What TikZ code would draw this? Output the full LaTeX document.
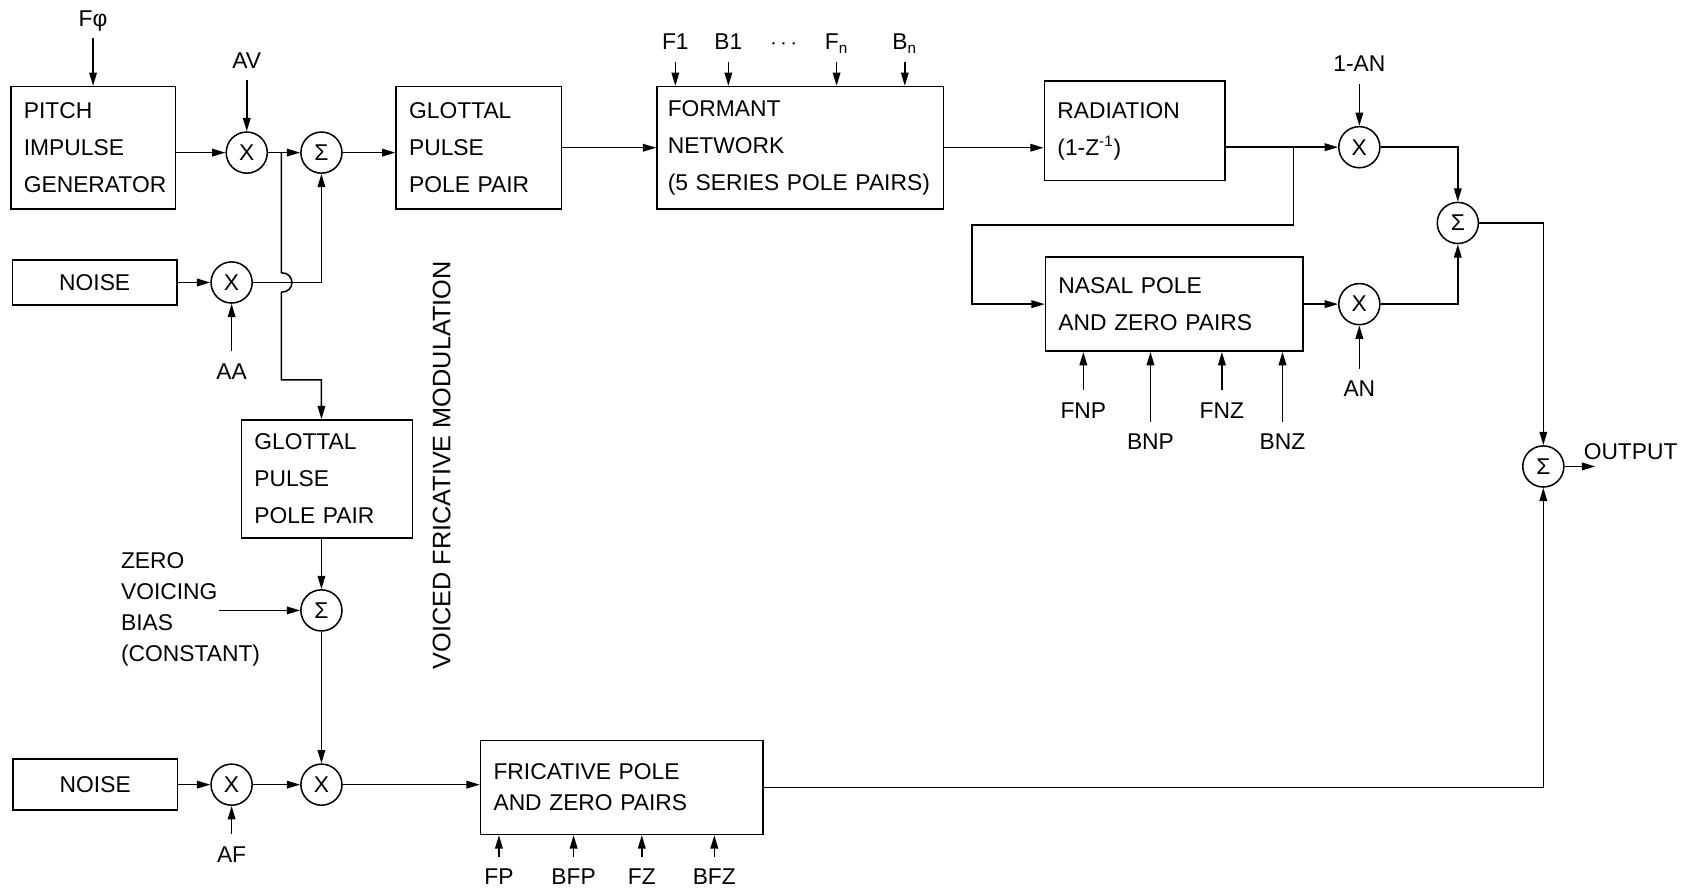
\documentclass[tikz,border=0pt]{standalone}
\usepackage{fontspec}
\setmainfont{Liberation Sans}
\usepackage{tikz}
\usetikzlibrary{arrows.meta,positioning,calc}
\tikzset{
    blockbox/.style={
        rectangle,                % bloque del sintetizador
        draw,                     % borde negro simple
        line width=0.8pt,         % trazo fino, como en el dibujo original
        align=left,               % texto alineado a la izquierda dentro del bloque
        inner xsep=0.24cm,        % margen izquierdo del texto
        inner ysep=0pt,
        font=\fontsize{12}{19.5}\selectfont % interlineado amplio
    },
    noisebox/.style={
        rectangle,
        draw,
        line width=0.8pt,
        align=center,             % aquí el texto va centrado
        inner sep=0pt,
        minimum width=3.04cm      % mismo ancho para las dos fuentes de ruido
    },
    mixer/.style={
        circle,                   % multiplicadores y sumadores
        draw,
        line width=0.8pt,
        minimum size=0.76cm,
        inner sep=0pt
    },
    param/.style={
        inner xsep=2pt,
        inner ysep=6pt,           % deja el hueco entre rótulo y flecha
        text height=8.6pt,        % todos los rótulos con la misma caja
        text depth=0pt
    },
    sig/.style={
        line width=0.8pt,
        -{Triangle[length=7pt,width=4pt]} % punta rellena y estrecha
    }
}

\begin{document}
\begin{tikzpicture}[x=0.02cm, y=-0.02cm, font=\fontsize{12}{14}\selectfont]
    \useasboundingbox (0,0) rectangle (1568,825);

    \node[blockbox, text width=2.56cm, minimum height=2.26cm] (pitch) at (86,136.5) {PITCH\\IMPULSE\\GENERATOR};
    \node[blockbox, text width=2.58cm, minimum height=2.26cm] (glotA) at (442.5,136.5) {GLOTTAL\\PULSE\\POLE PAIR};
    \node[blockbox, text width=4.9cm, inner xsep=0.2cm, minimum height=2.26cm] (formant) at (739.5,136.5) {FORMANT\\NETWORK\\\mbox{(5 SERIES POLE PAIRS)}};
    \node[blockbox, text width=2.86cm, minimum height=1.84cm] (radiation) at (1048.5,121) {RADIATION\\(1-Z\textsuperscript{-1})};
    \node[blockbox, text width=4.28cm, minimum height=1.74cm] (nasal) at (1085,281) {NASAL POLE\\AND ZERO PAIRS};
    \node[noisebox, minimum height=0.84cm] (noiseA) at (87.5,261) {NOISE};
    \node[blockbox, text width=2.68cm, minimum height=2.18cm] (glotB) at (302,442.5) {GLOTTAL\\PULSE\\POLE PAIR};
    \node[noisebox, minimum height=0.94cm] (noiseB) at (88,725) {NOISE};
    \node[blockbox, text width=4.74cm, minimum height=1.74cm, font=\fontsize{12}{16.5}\selectfont] (fricative) at (574.5,727.5) {FRICATIVE POLE\\AND ZERO PAIRS};

    \node[mixer] (mulV) at (228,141) {X};
    \node[mixer] (sumV) at (297,141) {Σ};
    \node[mixer] (mulA) at (214,261) {X};
    \node[mixer] (sumB) at (297,564) {Σ};
    \node[mixer] (mulAF) at (214,725) {X};
    \node[mixer] (mulF) at (297,725) {X};
    \node[mixer] (mulOral) at (1256,136) {X};
    \node[mixer] (mulNasal) at (1256,281) {X};
    \node[mixer] (sumN) at (1347,206) {Σ};
    \node[mixer] (sumOut) at (1426,431) {Σ};

    \node[param, above=0.88cm of pitch] (f0) {Fφ};
    \node[param, above=0.94cm of mulV] (av) {AV};
    \node[param, below=0.88cm of mulA] (aa) {AA};
    \node[param, below=0.52cm of mulAF] (af) {AF};
    \node[param, above=0.78cm of mulOral] (oneAN) {1-AN};
    \node[param, below=0.8cm of mulNasal] (an) {AN};

    \node[param] (fOne) at (624,38.5) {F1};
    \node[param] (bOne) at (673,38.5) {B1};
    \node[param] (dots) at (724,38.5) {$\cdots$};
    \node[param] (fN) at (773,38.5) {F\textsubscript{n}};
    \node[param] (bN) at (836,38.5) {B\textsubscript{n}};

    \node[param] (fnp) at (1001,379) {FNP};
    \node[param] (bnp) at (1063,408) {BNP};
    \node[param] (fnz) at (1129,379) {FNZ};
    \node[param] (bnz) at (1185,408) {BNZ};

    \node[param] (fp) at (461,810) {FP};
    \node[param] (bfp) at (530,810) {BFP};
    \node[param] (fz) at (593,810) {FZ};
    \node[param] (bfz) at (660,810) {BFZ};

    \node[align=left, anchor=west, inner sep=0pt, font=\fontsize{12}{16.2}\selectfont] (bias) at (111.5,563) {ZERO\\VOICING\\BIAS\\(CONSTANT)};
    \node[rotate=90, font=\fontsize{13.3}{16}\selectfont] (modul) at (408,430) {VOICED FRICATIVE MODULATION};
    \node[anchor=west, inner sep=0pt] (outLbl) at (1463,417) {OUTPUT};

    \coordinate (tapV) at (260,141);
    \coordinate (hopTop) at (260,252);
    \coordinate (hopBot) at (260,270);
    \coordinate (bendV) at (260,351);
    \coordinate (biasTail) at (202,564);
    \coordinate (tapR) at (1195,136);
    \coordinate (loopN) at (898,208);
    \coordinate (outEnd) at (1474,431);

    \draw[sig] (f0) -- (f0 |- pitch.north);
    \draw[sig] (pitch.east |- mulV) -- (mulV);
    \draw[sig] (av) -- (mulV);
    \draw[sig] (mulV) -- (sumV);
    \draw[sig] (sumV) -- (sumV -| glotA.west);
    \draw[sig] (glotA) -- (formant);
    \draw[sig] (formant.east) -- (formant.east -| radiation.west);
    \draw[sig] (radiation.east |- mulOral) -- (mulOral);
    \draw[sig] (oneAN) -- (mulOral);

    \draw[sig] (fOne) -- (fOne |- formant.north);
    \draw[sig] (bOne) -- (bOne |- formant.north);
    \draw[sig] (fN) -- (fN |- formant.north);
    \draw[sig] (bN) -- (bN |- formant.north);

    \draw[sig] (noiseA) -- (mulA);
    \draw[sig] (aa) -- (mulA);
    \draw[sig] (mulA) -| (sumV.south);
    \draw[sig] (tapV) -- (hopTop) .. controls (273,252) and (273,270) .. (hopBot) -- (bendV) -| (sumV |- glotB.north);

    \draw[sig] (glotB.south -| sumB) -- (sumB);
    \draw[sig] (biasTail) -- (sumB);
    \draw[sig] (sumB) -- (mulF);
    \draw[sig] (noiseB) -- (mulAF);
    \draw[sig] (af) -- (mulAF);
    \draw[sig] (mulAF) -- (mulF);
    \draw[sig] (mulF) -- (mulF -| fricative.west);

    \draw[sig] (fp) -- (fp |- fricative.south);
    \draw[sig] (bfp) -- (bfp |- fricative.south);
    \draw[sig] (fz) -- (fz |- fricative.south);
    \draw[sig] (bfz) -- (bfz |- fricative.south);

    \draw[sig] (tapR) |- (loopN) |- (nasal.west);
    \draw[sig] (nasal) -- (mulNasal);
    \draw[sig] (an) -- (mulNasal);
    \draw[sig] (fnp) -- (fnp |- nasal.south);
    \draw[sig] (bnp) -- (bnp |- nasal.south);
    \draw[sig] (fnz) -- (fnz |- nasal.south);
    \draw[sig] (bnz) -- (bnz |- nasal.south);

    \draw[sig] (mulOral) -| (sumN.north);
    \draw[sig] (mulNasal) -| (sumN.south);
    \draw[sig] (sumN) -| (sumOut.north);
    \draw[sig] (fricative.east) -| (sumOut.south);
    \draw[sig] (sumOut) -- (outEnd);
\end{tikzpicture}
\end{document}
